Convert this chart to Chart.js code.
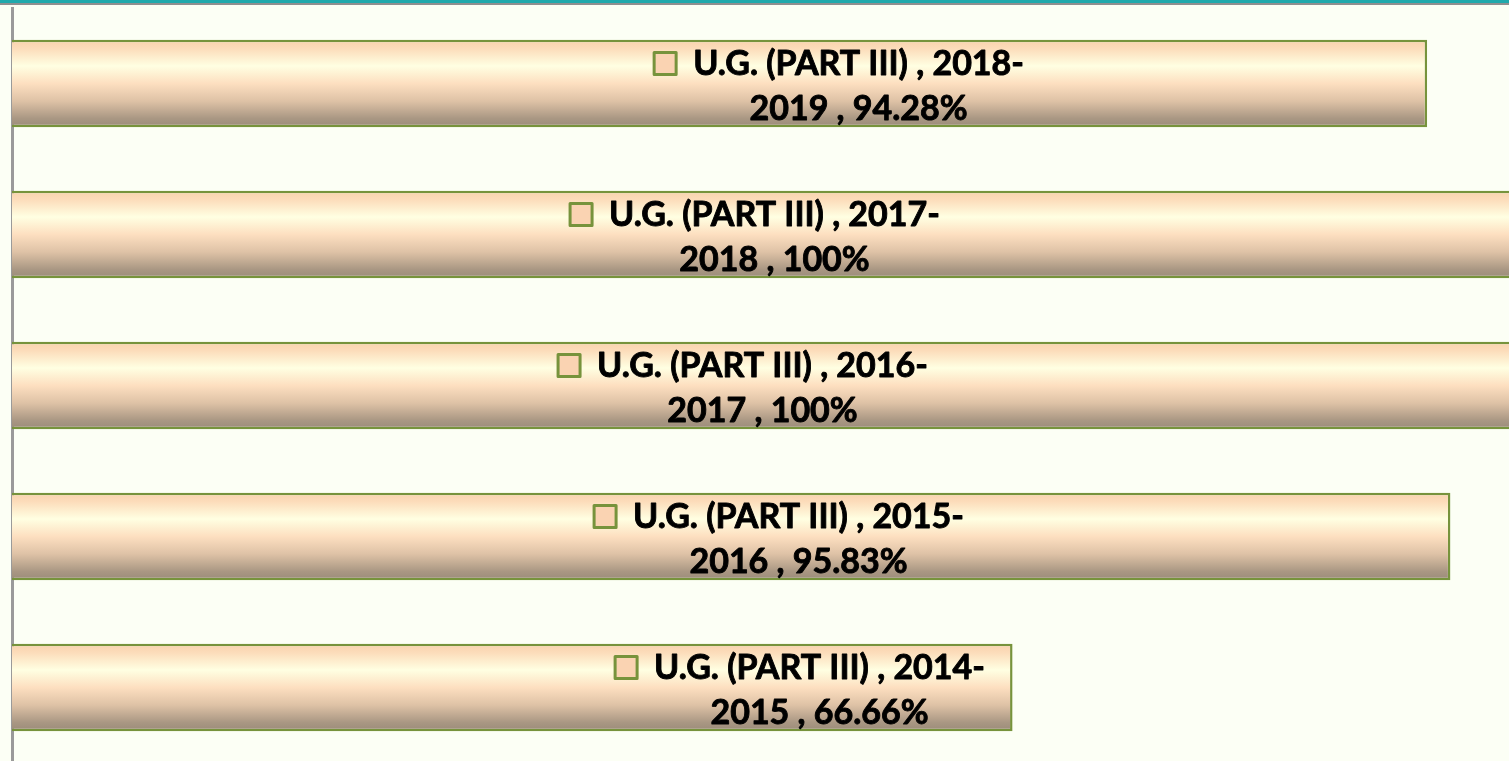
<!DOCTYPE html>
<html>
<head>
<meta charset="utf-8">
<script src="https://cdn.jsdelivr.net/npm/chart.js@4"></script>
<style>
  html, body { margin:0; padding:0; width:1509px; height:761px; overflow:hidden; background:#FCFFF5; }
  #topband { position:absolute; left:0; top:0; width:1509px; height:3px; background:#1FA9AC; border-bottom:2px solid #8F8F8F; z-index:2; }
  #wrap { position:absolute; left:0; top:0; width:1513px; height:765px; }
</style>
</head>
<body>
<div id="topband"></div>
<div id="wrap"><canvas id="c"></canvas></div>
<script>
// ---- data ----
const seriesName = 'U.G. (PART III)';
const categories = ['2018-2019', '2017-2018', '2016-2017', '2015-2016', '2014-2015'];
const values = [94.28, 100, 100, 95.83, 66.66];
const valueLabels = ['94.28%', '100%', '100%', '95.83%', '66.66%'];
// horizontal position of each data label centre, in axis units (labels were placed manually)
const labelPos = [56.4, 50.8, 50.0, 52.4, 53.8];

const BORDER = '#77933C';
const FONT = 'bold 34px Lato, "Open Sans", sans-serif';
const BAR_PCT = 0.58;

function barGradient(ctx, top, bottom) {
  const g = ctx.createLinearGradient(0, top, 0, bottom);
  g.addColorStop(0.00, '#F8D2AC');
  g.addColorStop(0.10, '#FCDCBA');
  g.addColorStop(0.30, '#FFFFE2');
  g.addColorStop(0.50, '#FDDFC0');
  g.addColorStop(0.70, '#DEC2A6');
  g.addColorStop(0.90, '#A99783');
  g.addColorStop(1.00, '#9A8B79');
  return g;
}

function scriptedFill(c) {
  const ys = c.chart.scales.y;
  if (!ys || c.dataIndex == null || ys.bottom == null) return '#FCDCBA';
  const slot = (ys.bottom - ys.top) / categories.length;
  const mid = ys.getPixelForValue(c.dataIndex);
  const half = slot * BAR_PCT / 2;
  return barGradient(c.chart.ctx, mid - half, mid + half);
}

const labelPlugin = {
  id: 'barLabels',
  afterDatasetsDraw(chart) {
    const ctx = chart.ctx;
    const meta = chart.getDatasetMeta(0);
    const xs = chart.scales.x;
    ctx.save();
    ctx.font = FONT;
    ctx.textBaseline = 'middle';
    ctx.textAlign = 'center';
    ctx.lineJoin = 'round';
    meta.data.forEach((el, i) => {
      const cx = xs.getPixelForValue(labelPos[i]);
      const parts = categories[i].split('-');
      const line1 = seriesName + ' , ' + parts[0] + '-';
      const line2 = parts[1] + ' , ' + valueLabels[i];
      const y1 = el.y - 19, y2 = el.y + 26;
      ctx.fillStyle = '#000';
      ctx.strokeStyle = '#000';
      ctx.lineWidth = 0.9;
      ctx.fillText(line1, cx, y1);
      ctx.strokeText(line1, cx, y1);
      ctx.fillText(line2, cx, y2);
      ctx.strokeText(line2, cx, y2);
      const w1 = ctx.measureText(line1).width;
      const sq = 22;
      const sx = cx - w1 / 2 - 17 - sq;
      ctx.fillStyle = '#FAD3B2';
      ctx.fillRect(sx, y1 - sq / 2 - 1, sq, sq);
      ctx.lineWidth = 3;
      ctx.strokeStyle = BORDER;
      ctx.strokeRect(sx, y1 - sq / 2 - 1, sq, sq);
    });
    ctx.restore();
  }
};

new Chart(document.getElementById('c'), {
  type: 'bar',
  data: {
    labels: categories,
    datasets: [{
      label: seriesName,
      data: values,
      backgroundColor: scriptedFill,
      borderColor: BORDER,
      borderWidth: 2.5,
      borderSkipped: 'start',
      categoryPercentage: 1,
      barPercentage: BAR_PCT
    }]
  },
  options: {
    indexAxis: 'y',
    responsive: true,
    maintainAspectRatio: false,
    animation: false,
    layout: { padding: { left: 12, right: 0, top: 8, bottom: 2 } },
    plugins: { legend: { display: false }, tooltip: { enabled: false } },
    scales: {
      x: { display: false, min: 0, max: 100 },
      y: {
        display: true,
        grid: { display: false, drawTicks: false },
        ticks: { display: false },
        border: { display: true, color: '#9A9A9A', width: 3 }
      }
    }
  },
  plugins: [labelPlugin]
});
</script>
</body>
</html>
